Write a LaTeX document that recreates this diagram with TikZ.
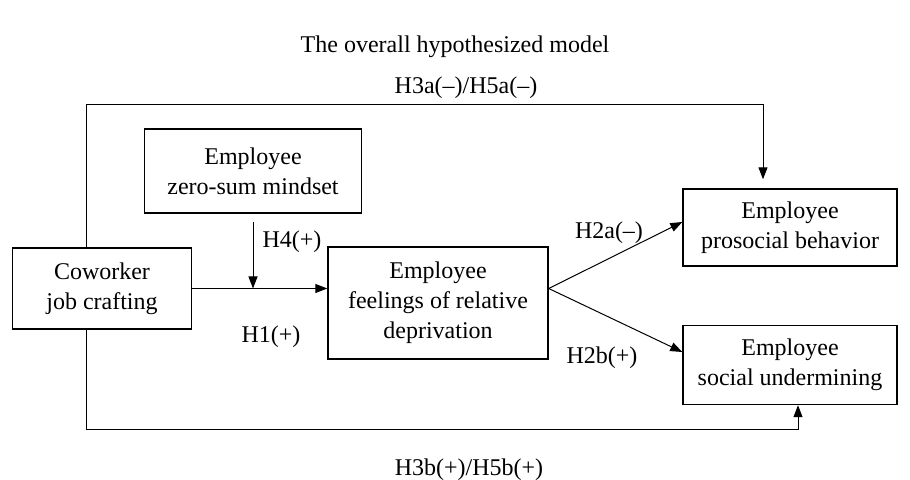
\documentclass[tikz,border=0pt]{standalone}
\usepackage{fontspec}
\setmainfont{Liberation Serif}
\usetikzlibrary{arrows.meta,positioning,calc}

\begin{document}
\begin{tikzpicture}[x=0.5pt, y=-0.5pt, every node/.style={font=\fontsize{12}{15}\selectfont},
  box/.style={rectangle, draw, line width=0.7pt, align=center, inner sep=0pt},
  link/.style={line width=0.5pt, -{Triangle[length=6pt,width=4.5pt]}}]
\useasboundingbox (0,0) rectangle (910,480);
\node (title) at (455,47) {The overall hypothesized model};

\node[box, minimum width=89.5pt, minimum height=40.5pt] (cw) at (102,288.5) {Coworker\\job crafting};
\node[box, minimum width=108.5pt, minimum height=42pt] (zs) at (253,171) {Employee\\zero-sum mindset};
\node[box, minimum width=110pt, minimum height=56pt] (fr) at (438,303) {Employee\\feelings of relative\\deprivation};
\node[box, minimum width=107pt, minimum height=38.5pt] (pb) at (790,227.5) {Employee\\prosocial behavior};
\node[box, minimum width=107pt, minimum height=39.5pt] (su) at (790,365) {Employee\\social undermining};

\coordinate (tl) at (86,105);
\coordinate (tr) at (763,105);
\coordinate (bl) at (86,430);
\coordinate (br) at (798,430);
\coordinate (fork) at (fr.east |- cw.east);

\draw[link] (cw.east) -- (cw.east -| fr.west);
\draw[link] ([yshift=-4pt]zs.south) -- (zs.south |- cw.east);
\draw[link] (fork) -- ([yshift=2.75pt]pb.west);
\draw[link] (fork) -- ([yshift=6.5pt]su.west);
\draw[link] (cw.north -| tl) -- (tl) -- (tr) -- ([yshift=4.5pt]pb.north -| tr);
\draw[link] (cw.south -| bl) -- (bl) -- (br) -- (su.south -| br);

\node (h4) at (292,242) {H4(+)};
\node (h1) at (271,337) {H1(+)};
\node (h2a) at (609,233) {H2a(–)};
\node (h2b) at (602,358) {H2b(+)};
\node (h3a) at (466,88) {H3a(–)/H5a(–)};
\node (h3b) at (469,470) {H3b(+)/H5b(+)};
\end{tikzpicture}
\end{document}
